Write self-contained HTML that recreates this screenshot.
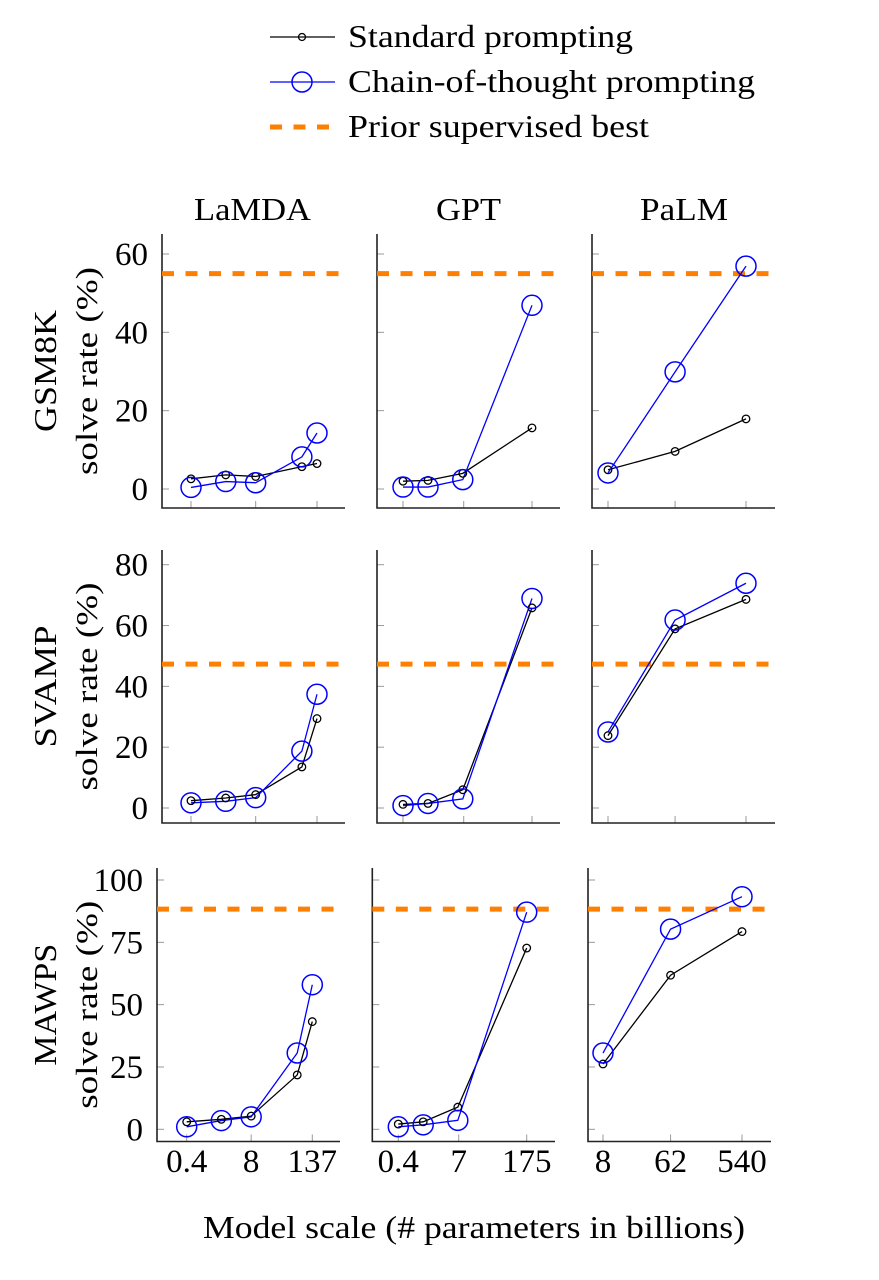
<!DOCTYPE html>
<html><head><meta charset="utf-8"><style>
body{margin:0;background:#fff;}
svg{display:block;font-family:"Liberation Serif",serif;}
</style></head><body>
<svg id="chart" width="879" height="1280" viewBox="0 0 879 1280" xmlns="http://www.w3.org/2000/svg">
<g>
 <g>
  <line x1="270" y1="37" x2="335" y2="37" stroke="#000" stroke-width="1.3"/><circle cx="302" cy="37" r="3.5" fill="none" stroke="#000" stroke-width="1.3"/>
  <text x="348" y="47" font-size="32" textLength="285" lengthAdjust="spacingAndGlyphs">Standard prompting</text></g>
 <g>
  <line x1="270" y1="82" x2="335" y2="82" stroke="#00f" stroke-width="1.3"/><circle cx="302" cy="82" r="10" fill="none" stroke="#00f" stroke-width="1.5"/>
  <text x="348" y="92" font-size="32" textLength="407" lengthAdjust="spacingAndGlyphs">Chain-of-thought prompting</text></g>
 <g>
  <line x1="270" y1="127" x2="335" y2="127" stroke="#ff8000" stroke-width="5" stroke-dasharray="12 11.5"/>
  <text x="348" y="137" font-size="32" textLength="301" lengthAdjust="spacingAndGlyphs">Prior supervised best</text></g>
</g>
<text x="194" y="220" font-size="32" textLength="117" lengthAdjust="spacingAndGlyphs">LaMDA</text>
<text x="436" y="220" font-size="32" textLength="65" lengthAdjust="spacingAndGlyphs">GPT</text>
<text x="640" y="220" font-size="32" textLength="88" lengthAdjust="spacingAndGlyphs">PaLM</text>
<text x="203" y="1238" font-size="32" textLength="542" lengthAdjust="spacingAndGlyphs">Model scale (# parameters in billions)</text>
<g id="panels"></g>
</svg>
<script>
const rowNames = ["GSM8K","SVAMP","MAWPS"];
const yMaxes = [60,80,100];
const yTicks = [[0,20,40,60],[0,20,40,60,80],[0,25,50,75,100]];
const priorBest = [55,47.3,88.3];
const lamdaScales = [0.4,2,8,68,137];
const gptScales = [0.4,1.3,6.7,175];
const palmScales = [8,62,540];
const xTickLabels = [["0.4","8","137"],["0.4","7","175"],["8","62","540"]];
const xTickValues = [[0.4,8,137],[0.4,7,175],[8,62,540]];
const stdGSM8K = [[2.6,3.6,3.2,5.7,6.5],[2.0,2.2,4.0,15.6],[4.9,9.6,17.9]];
const cotGSM8K = [[0.4,1.9,1.6,8.2,14.3],[0.5,0.5,2.4,46.9],[4.1,29.9,56.9]];
const stdSVAMP = [[2.4,3.3,4.4,13.5,29.4],[1.2,1.5,6.0,65.8],[23.8,58.9,68.6]];
const cotSVAMP = [[1.7,2.2,3.4,18.7,37.4],[0.8,1.5,3.0,68.9],[25.0,61.8,73.9]];
const stdMAWPS = [[3.0,4.0,5.3,21.8,43.2],[2.1,3.0,8.9,72.7],[26.2,61.8,79.3]];
const cotMAWPS = [[1.0,3.5,5.0,30.6,58.0],[1.0,1.8,3.6,87.1],[30.6,80.3,93.3]];

const stdAll=[stdGSM8K,stdSVAMP,stdMAWPS], cotAll=[cotGSM8K,cotSVAMP,cotMAWPS];
const scalesAll=[lamdaScales,gptScales,palmScales];
const rowGeo=[{top:234,bottom:508,y0:489,yTop:254},{top:550,bottom:823,y0:808,yTop:564.7},{top:868,bottom:1141.5,y0:1129.3,yTop:880}];
const colGeo=[[{l:162,r:345,a:191,b:317},{l:377,r:560,a:403,b:532},{l:592,r:775,a:608,b:746}],
 [{l:162,r:345,a:191,b:317},{l:377,r:560,a:403,b:532},{l:592,r:775,a:608,b:746}],
 [{l:157,r:340,a:186.7,b:312.3},{l:372.3,r:555,a:398.3,b:526.7},{l:588,r:771,a:603,b:742}]];
const NS="http://www.w3.org/2000/svg";
const root=document.getElementById('panels');
const svgEl=document.getElementById('chart');
function mk(tag,attrs,parent){const e=document.createElementNS(NS,tag);for(const k in attrs)e.setAttribute(k,attrs[k]);parent.appendChild(e);return e;}
for(let r=0;r<3;r++){
 const g=rowGeo[r];
 const yS=v=>g.y0-(v/yMaxes[r])*(g.y0-g.yTop);
 const cx=45, cy=(g.top+g.bottom)/2;
 const rl=mk('text',{x:cx-61,y:cy,'font-size':32,textLength:122,lengthAdjust:'spacingAndGlyphs',transform:`rotate(-90 ${cx} ${cy})`,dy:11},svgEl);
 rl.setAttribute('x',cx-61);
 
 
 rl.textContent=rowNames[r];
 const sx=87;
 const sl=mk('text',{x:sx-104,y:cy,'font-size':31,textLength:208,lengthAdjust:'spacingAndGlyphs',transform:`rotate(-90 ${sx} ${cy})`,dy:10},svgEl);
 
 
 sl.textContent='solve rate (%)';
 for(let c=0;c<3;c++){
  const cg=colGeo[r][c];
  const sc=scalesAll[c];
  const lmin=Math.log(sc[0]), lmax=Math.log(sc[sc.length-1]);
  const xS=v=>cg.a+(Math.log(v)-lmin)/(lmax-lmin)*(cg.b-cg.a);
  const p=mk('g',{},root);
  
  
  yTicks[r].forEach(t=>{mk('line',{x1:cg.l,x2:cg.l+7,y1:yS(t),y2:yS(t),stroke:'#999','stroke-width':1},p);
   if(c===0){const tl=mk('text',{x:cg.l-14,y:yS(t)+11,'font-size':33,'text-anchor':'end'},p);
    
    
    tl.textContent=t;}});
  xTickValues[c].forEach((t,i)=>{mk('line',{x1:xS(t),x2:xS(t),y1:g.bottom,y2:g.bottom-7,stroke:'#999','stroke-width':1},p);
   if(r===2){const tl=mk('text',{x:xS(t),y:1172,'font-size':33,'text-anchor':'middle'},p);
    
    
    tl.textContent=xTickLabels[c][i];}});
  mk('polyline',{points:`${cg.l},${g.top} ${cg.l},${g.bottom} ${cg.r},${g.bottom}`,fill:'none',stroke:'#222','stroke-width':1.6},p);
  const ob=mk('line',{x1:cg.l,x2:cg.r,y1:yS(priorBest[r]),y2:yS(priorBest[r]),stroke:'#ff8000','stroke-width':5,'stroke-dasharray':'12 11.5'},p);
  
  
  const sd=stdAll[r][c], cd=cotAll[r][c];
  const sl2=mk('polyline',{points:sc.map((s,i)=>xS(s)+','+yS(sd[i])).join(' '),fill:'none',stroke:'#000','stroke-width':1.3},p);
  
  
  const cl=mk('polyline',{points:sc.map((s,i)=>xS(s)+','+yS(cd[i])).join(' '),fill:'none',stroke:'#00f','stroke-width':1.3},p);
  
  
  sc.forEach((s,i)=>{
   const m=mk('circle',{cx:xS(s),cy:yS(sd[i]),r:3.8,fill:'none',stroke:'#000','stroke-width':1.3},p);
   
   
   const m2=mk('circle',{cx:xS(s),cy:yS(cd[i]),r:10,fill:'none',stroke:'#00f','stroke-width':1.5},p);
   
   
  });
 }
}
</script>
</body></html>
